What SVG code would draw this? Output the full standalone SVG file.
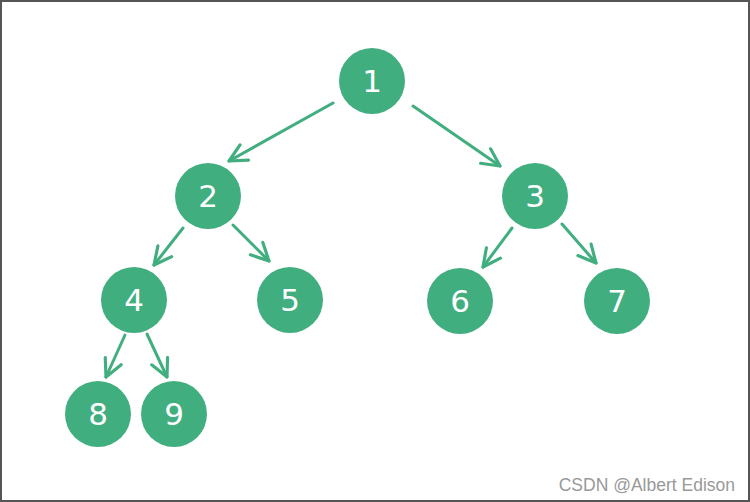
<svg xmlns="http://www.w3.org/2000/svg" width="750" height="502" viewBox="0 0 750 502">
<defs>
<style>
.node circle{fill:#41ae7f;}
.node text{fill:#ffffff;font-family:"DejaVu Sans","Liberation Sans",sans-serif;font-size:31px;text-anchor:middle;dominant-baseline:central;}
.edge{stroke:#41ae7f;stroke-width:3;fill:none;stroke-linecap:round;marker-end:url(#arr);}
.wm{fill:#999999;font-family:"Liberation Sans",Arial,sans-serif;font-size:17.5px;text-anchor:end;}
</style>
<marker id="arr" viewBox="0 0 12 12" refX="11" refY="6" markerWidth="7" markerHeight="7" orient="auto" markerUnits="strokeWidth">
<path d="M1,1 L11,6 L1,11" fill="none" stroke="#41ae7f" stroke-width="1.8" stroke-linecap="round" stroke-linejoin="round"/>
</marker>
</defs>
<rect x="0" y="0" width="750" height="502" fill="#ffffff"/>
<rect x="1" y="1" width="748" height="500" fill="none" stroke="#555555" stroke-width="2"/>
<g id="connectors">
<line class="edge" x1="333" y1="103" x2="229" y2="161"/>
<line class="edge" x1="413" y1="106" x2="500" y2="166"/>
<line class="edge" x1="183" y1="228" x2="154" y2="265"/>
<line class="edge" x1="233" y1="225" x2="269" y2="261"/>
<line class="edge" x1="512" y1="228" x2="483" y2="267"/>
<line class="edge" x1="562" y1="224" x2="596" y2="263"/>
<line class="edge" x1="125" y1="335" x2="106" y2="377"/>
<line class="edge" x1="147" y1="334" x2="167" y2="377"/>
</g>
<g id="n1" class="node"><circle cx="372" cy="81" r="33"/><text x="372" y="81">1</text></g>
<g id="n2" class="node"><circle cx="208" cy="196" r="33"/><text x="208" y="196">2</text></g>
<g id="n3" class="node"><circle cx="535" cy="196" r="33"/><text x="535" y="196">3</text></g>
<g id="n4" class="node"><circle cx="134" cy="300" r="33"/><text x="134" y="300">4</text></g>
<g id="n5" class="node"><circle cx="290" cy="300" r="33"/><text x="290" y="300">5</text></g>
<g id="n6" class="node"><circle cx="460" cy="301" r="33"/><text x="460" y="301">6</text></g>
<g id="n7" class="node"><circle cx="617" cy="301" r="33"/><text x="617" y="301">7</text></g>
<g id="n8" class="node"><circle cx="98" cy="414" r="33"/><text x="98" y="414">8</text></g>
<g id="n9" class="node"><circle cx="174" cy="414" r="33"/><text x="174" y="414">9</text></g>
<text class="wm" x="735" y="491">CSDN @Albert Edison</text>
</svg>
